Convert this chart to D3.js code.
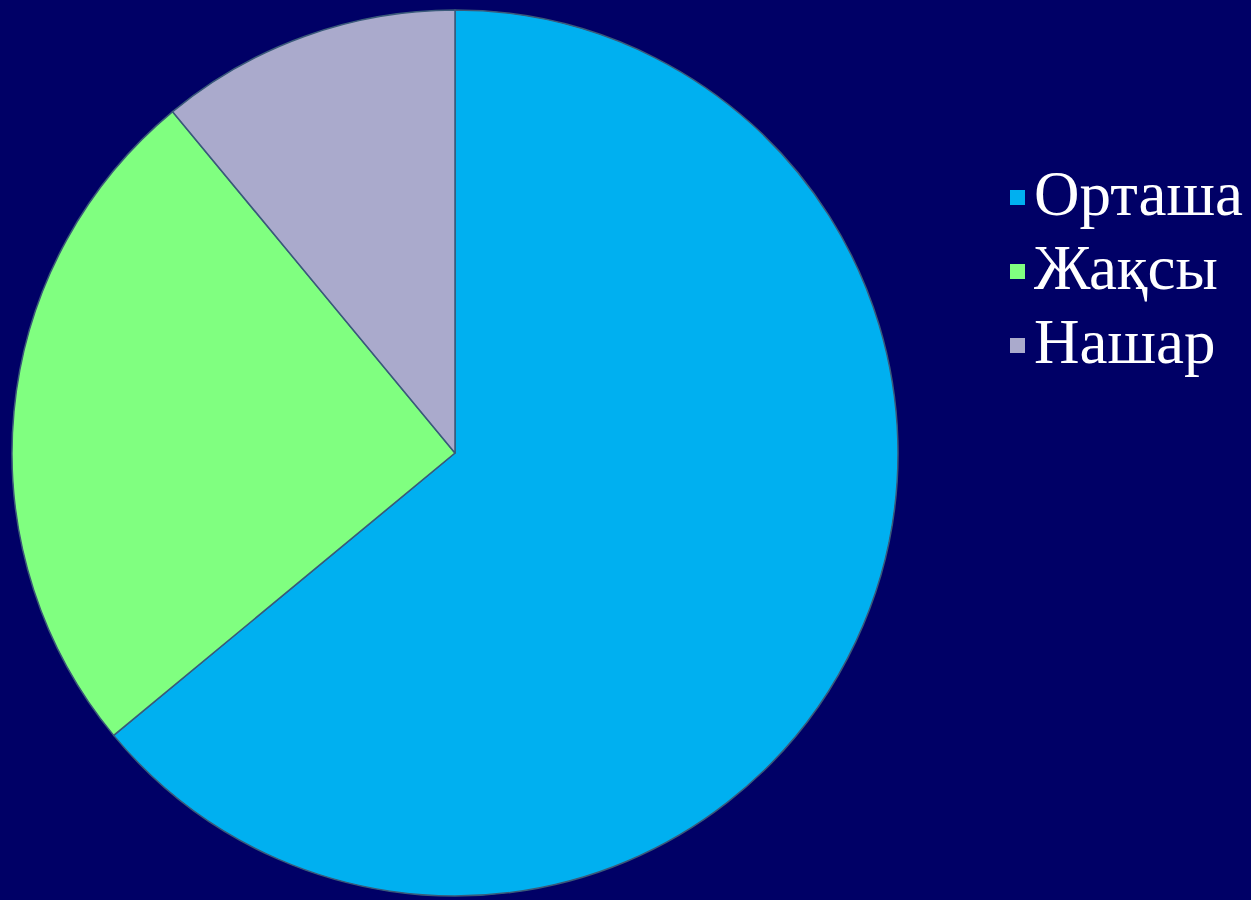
<!DOCTYPE html>
<html>
<head>
<meta charset="utf-8">
<script src="https://cdn.jsdelivr.net/npm/d3@7"></script>
<style>
  html, body { margin: 0; padding: 0; background: #000066; }
</style>
</head>
<body>
<svg id="chart" width="1251" height="900"></svg>
<script>
// data (percent)
const categories = ["Орташа", "Жақсы", "Нашар"];
const values = [64, 25, 11];
const colors = ["#00B0F0", "#80FF80", "#AAAACC"];

const svg = d3.select("#chart");
svg.append("rect").attr("width", 1251).attr("height", 900).attr("fill", "#000066");

const cx = 455, cy = 453, r = 443;

const pie = d3.pie().sort(null).value(d => d.v);
const arc = d3.arc().innerRadius(0).outerRadius(r);
const data = categories.map((c, i) => ({ c: c, v: values[i], col: colors[i] }));

const g = svg.append("g").attr("transform", `translate(${cx},${cy})`);
g.selectAll("path")
  .data(pie(data))
  .enter().append("path")
  .attr("d", arc)
  .attr("fill", d => d.data.col)
  .attr("stroke", "#3a5a7a")
  .attr("stroke-width", 1.5)
  .attr("stroke-linejoin", "round");

// legend
const legend = svg.append("g").attr("transform", "translate(1010,0)");
const item = legend.selectAll("g")
  .data(data)
  .enter().append("g")
  .attr("transform", (d, i) => `translate(0,${215 + i * 74})`);
item.append("rect")
  .attr("x", 0).attr("y", -25)
  .attr("width", 15).attr("height", 15)
  .attr("fill", d => d.col);
item.append("text")
  .attr("x", 24).attr("y", 0)
  .attr("fill", "#ffffff")
  .attr("font-family", "'Liberation Serif', 'DejaVu Serif', serif")
  .attr("font-size", 63)
  .text(d => d.c);
</script>
</body>
</html>
